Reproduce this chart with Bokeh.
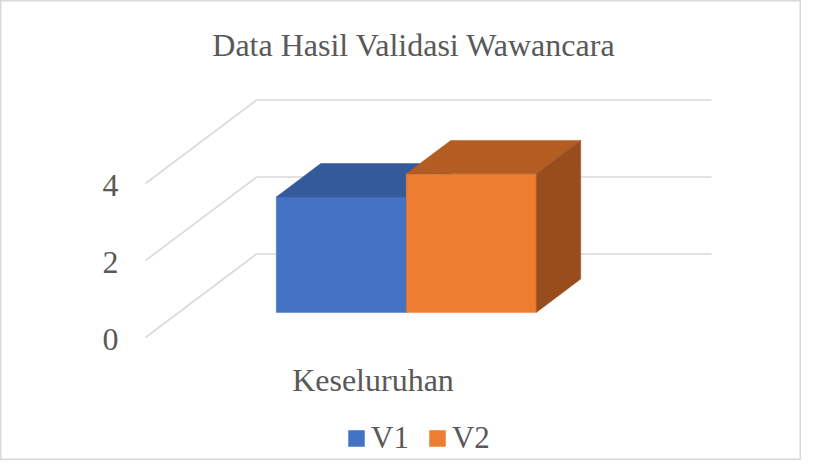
from bokeh.plotting import figure
from bokeh.models import Range1d, Legend, LegendItem
from bokeh.core.properties import value
from bokeh.embed import file_html
from bokeh.resources import INLINE

# ---------------- data ----------------
title_text = "Data Hasil Validasi Wawancara"
categories = ["Keseluruhan"]
series_names = ["V1", "V2"]
v1_values = [3.0]
v2_values = [3.6]
y_ticks = [0, 2, 4]
y_tick_labels = ["0", "2", "4"]

series_values = [v1_values, v2_values]

# ---------------- style ----------------
FONT = "Liberation Serif"
TEXT_COLOR = "#595959"
GRID_COLOR = "#D9D9D9"
front_colors = ["#4472C4", "#ED7D31"]
top_colors = ["#345A9C", "#B35D22"]
side_colors = ["#2B4A82", "#9A4D1C"]

# oblique 3-D projection (depth z in 0..1)
DX = 0.244     # x units per unit of depth
DY = 2.169     # value units per unit of depth
Z0, Z1 = 0.3, 0.7   # bar depth span
GAP = 1.5           # gap width relative to bar width


def proj(x, y, z):
    return x + DX * z, y + DY * z


W, H = 801, 460
PX_X = 455.0   # pixels per category unit
PX_Y = 38.5    # pixels per value unit
ORIG_X, ORIG_Y = 145.0, 337.0
x_start, x_end = (0 - ORIG_X) / PX_X, (W - ORIG_X) / PX_X
y_start, y_end = (ORIG_Y - H) / PX_Y, ORIG_Y / PX_Y

p = figure(width=W, height=H, output_backend="svg", toolbar_location=None,
           x_range=Range1d(x_start, x_end), y_range=Range1d(y_start, y_end),
           x_axis_type=None, y_axis_type=None,
           min_border=0, min_border_left=0, min_border_right=0,
           min_border_top=0, min_border_bottom=0)
p.grid.visible = False
p.outline_line_color = GRID_COLOR
p.outline_line_width = 2
p.background_fill_color = "white"
p.border_fill_color = "white"

ncat = len(categories)

# ---------------- walls gridlines ----------------
gx, gy = [], []
for v in y_ticks:
    a = proj(0, v, 1)
    b = proj(ncat, v, 1)
    gx.append([a[0], b[0]]); gy.append([a[1], b[1]])
    c = proj(0, v, 0)
    gx.append([c[0], a[0]]); gy.append([c[1], a[1]])
p.multi_line(gx, gy, line_color=GRID_COLOR, line_width=1.6)

# ---------------- bars ----------------
nser = len(series_values)
bw = 1.0 / (nser + GAP)
front_renderers = []
for s, vals in enumerate(series_values):
    fr = None
    for i, v in enumerate(vals):
        xl = i + GAP * bw / 2 + s * bw
        xr = xl + bw
        # front
        pts = [proj(xl, 0, Z0), proj(xr, 0, Z0), proj(xr, v, Z0), proj(xl, v, Z0)]
        fr = p.patch([q[0] for q in pts], [q[1] for q in pts],
                     fill_color=front_colors[s], line_color=front_colors[s], line_width=0.5)
        # top
        pts = [proj(xl, v, Z0), proj(xr, v, Z0), proj(xr, v, Z1), proj(xl, v, Z1)]
        p.patch([q[0] for q in pts], [q[1] for q in pts],
                fill_color=top_colors[s], line_color=top_colors[s], line_width=0.5)
        # right side
        pts = [proj(xr, 0, Z0), proj(xr, 0, Z1), proj(xr, v, Z1), proj(xr, v, Z0)]
        p.patch([q[0] for q in pts], [q[1] for q in pts],
                fill_color=side_colors[s], line_color=side_colors[s], line_width=0.5)
    front_renderers.append(fr)

# ---------------- texts ----------------
# value axis labels on the front edge of the side wall
p.text(x=[0] * len(y_ticks), y=y_ticks, text=y_tick_labels,
       text_font=value(FONT), text_font_size="32px", text_color=TEXT_COLOR,
       text_align="right", text_baseline="alphabetic", x_offset=-27, y_offset=2)

# category label
p.text(x=[i + 0.5 for i in range(ncat)], y=[0] * ncat, text=categories,
       text_font=value(FONT), text_font_size="32px", text_color=TEXT_COLOR,
       text_align="center", text_baseline="alphabetic", y_offset=42)

# title
p.text(x=[(x_start + x_end) / 2], y=[y_end], text=[title_text],
       text_font=value(FONT), text_font_size="32px", text_color=TEXT_COLOR,
       text_align="center", text_baseline="alphabetic", x_offset=13, y_offset=44)

# legend
legend = Legend(items=[LegendItem(label=n, renderers=[r]) for n, r in zip(series_names, front_renderers)],
                orientation="horizontal", location=(346, 4),
                glyph_width=20, glyph_height=20, label_standoff=5, spacing=18,
                label_text_font=FONT, label_text_font_size="31px", label_text_color=TEXT_COLOR,
                border_line_color=None, background_fill_alpha=0, padding=0, margin=0)
p.add_layout(legend, "center")

open("out.html", "w").write(file_html(p, INLINE))
